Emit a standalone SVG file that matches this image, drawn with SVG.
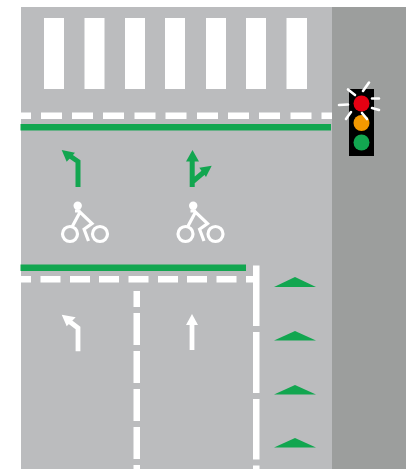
<svg xmlns="http://www.w3.org/2000/svg" width="406" height="469" viewBox="0 0 406 469">
<defs>
<style>
.w{fill:#fff}
.g{fill:#12a650}
.wl{fill:none;stroke:#fff;stroke-width:4.8}
.gl{fill:none;stroke:#12a650;stroke-width:5}
.ray{fill:none;stroke:#fff;stroke-width:2.6;stroke-linecap:round}
.bk{fill:none;stroke:#fff;stroke-width:3.2}
</style>
<g id="bike">
<circle cx="16.200" cy="-35.200" r="4.200" class="w"/>
<circle cx="8.500" cy="-7" r="7.500" class="bk"/>
<circle cx="38.500" cy="-7" r="7.500" class="bk"/>
<path d="M10.500 -14L18.500 -29L30.500 -17.500L21.500 -11M22.500 -12L27 0M13.500 -30H19" class="bk"/>
</g>
</defs>
<rect x="21" y="7" width="311" height="462" fill="#bbbcbe"/>
<rect x="332" y="7" width="74" height="462" fill="#9c9e9d"/>
<g id="crosswalk" class="w">
<rect x="44" y="18" width="20" height="71"/>
<rect x="84.500" y="18" width="20" height="71"/>
<rect x="125" y="18" width="20" height="71"/>
<rect x="165" y="18" width="20" height="71"/>
<rect x="206" y="18" width="20" height="71"/>
<rect x="246" y="18" width="20" height="71"/>
<rect x="286.500" y="18" width="20.500" height="71"/>
</g>
<g id="stop-dashes-top" class="w">
<rect x="21" y="112.500" width="10" height="6.500"/>
<rect x="41" y="112.500" width="21" height="6.500"/>
<rect x="72" y="112.500" width="21" height="6.500"/>
<rect x="103" y="112.500" width="21" height="6.500"/>
<rect x="134.500" y="112.500" width="21" height="6.500"/>
<rect x="165.500" y="112.500" width="21" height="6.500"/>
<rect x="197" y="112.500" width="21" height="6.500"/>
<rect x="228" y="112.500" width="21" height="6.500"/>
<rect x="259" y="112.500" width="21" height="6.500"/>
<rect x="290.500" y="112.500" width="21" height="6.500"/>
<rect x="321.500" y="112.500" width="10.500" height="6.500"/>
</g>
<rect id="green-line-top" class="g" x="20.500" y="124" width="310.500" height="6.500"/>
<rect id="green-line-mid" class="g" x="20.500" y="264.500" width="225.500" height="6.500"/>
<g id="stop-dashes-mid" class="w">
<rect x="21" y="276" width="10" height="6.500"/>
<rect x="40.500" y="276" width="20" height="6.500"/>
<rect x="70" y="276" width="20" height="6.500"/>
<rect x="99" y="276" width="20" height="6.500"/>
<rect x="128.500" y="276" width="20" height="6.500"/>
<rect x="158" y="276" width="20" height="6.500"/>
<rect x="187" y="276" width="20" height="6.500"/>
<rect x="216.500" y="276" width="20" height="6.500"/>
<rect x="246" y="276" width="8" height="6.500"/>
</g>
<g id="lane-line-1" class="w">
<rect x="133.500" y="291" width="6.500" height="16"/>
<rect x="133.500" y="313" width="6.500" height="32"/>
<rect x="133.500" y="351" width="6.500" height="32"/>
<rect x="133.500" y="389" width="6.500" height="32"/>
<rect x="133.500" y="427" width="6.500" height="32"/>
<rect x="133.500" y="465" width="6.500" height="4"/>
</g>
<g id="lane-line-2" class="w">
<rect x="253" y="265.500" width="6.500" height="60.500"/>
<rect x="253" y="332" width="6.500" height="61"/>
<rect x="253" y="399" width="6.500" height="60.500"/>
<rect x="253" y="465.500" width="6.500" height="3.500"/>
</g>
<g id="triangles" class="g">
<polygon points="274,287 295,277 316,287"/>
<polygon points="274,340.500 295,331 316,340.500"/>
<polygon points="274,394.500 295,385 316,394.500"/>
<polygon points="274,447.500 295,438 316,447.500"/>
</g>
<g id="arrow-bike-left">
<path class="gl" d="M78 187V161.500L70 156"/>
<polygon class="g" points="61.700,150 75,152.700 66.700,161.700"/>
</g>
<g id="arrow-bike-straight-right">
<path class="gl" d="M192.200 187V158M192.200 182L204 172"/>
<polygon class="g" points="192.500,150 199,161.500 186,161.500"/>
<polygon class="g" points="211.700,165.700 199.300,167.700 206,177"/>
</g>
<use id="bike-1" href="#bike" x="61.500" y="241"/>
<use id="bike-2" href="#bike" x="177" y="241"/>
<g id="arrow-left">
<path class="wl" d="M78 351.300V328L69.500 321.500"/>
<polygon class="w" points="61.700,314.700 75.700,317.300 66.700,326.300"/>
</g>
<g id="arrow-straight">
<path class="wl" d="M192 350V325"/>
<polygon class="w" points="192,314 198,325 186,325"/>
</g>
<g id="traffic-light">
<rect x="349" y="89" width="25" height="67"/>
<circle cx="361.500" cy="103.500" r="8" fill="#e60012"/>
<circle cx="361.500" cy="123" r="8" fill="#f39800"/>
<circle cx="361.500" cy="142.500" r="8" fill="#12a650"/>
<path class="ray" d="M363 91L369 82.500M355 95L348 89.500M372 98.500H379M372 108L379 110M348 104.500L339 105M351 112L346 119M362 113L367 119"/>
</g>
</svg>
